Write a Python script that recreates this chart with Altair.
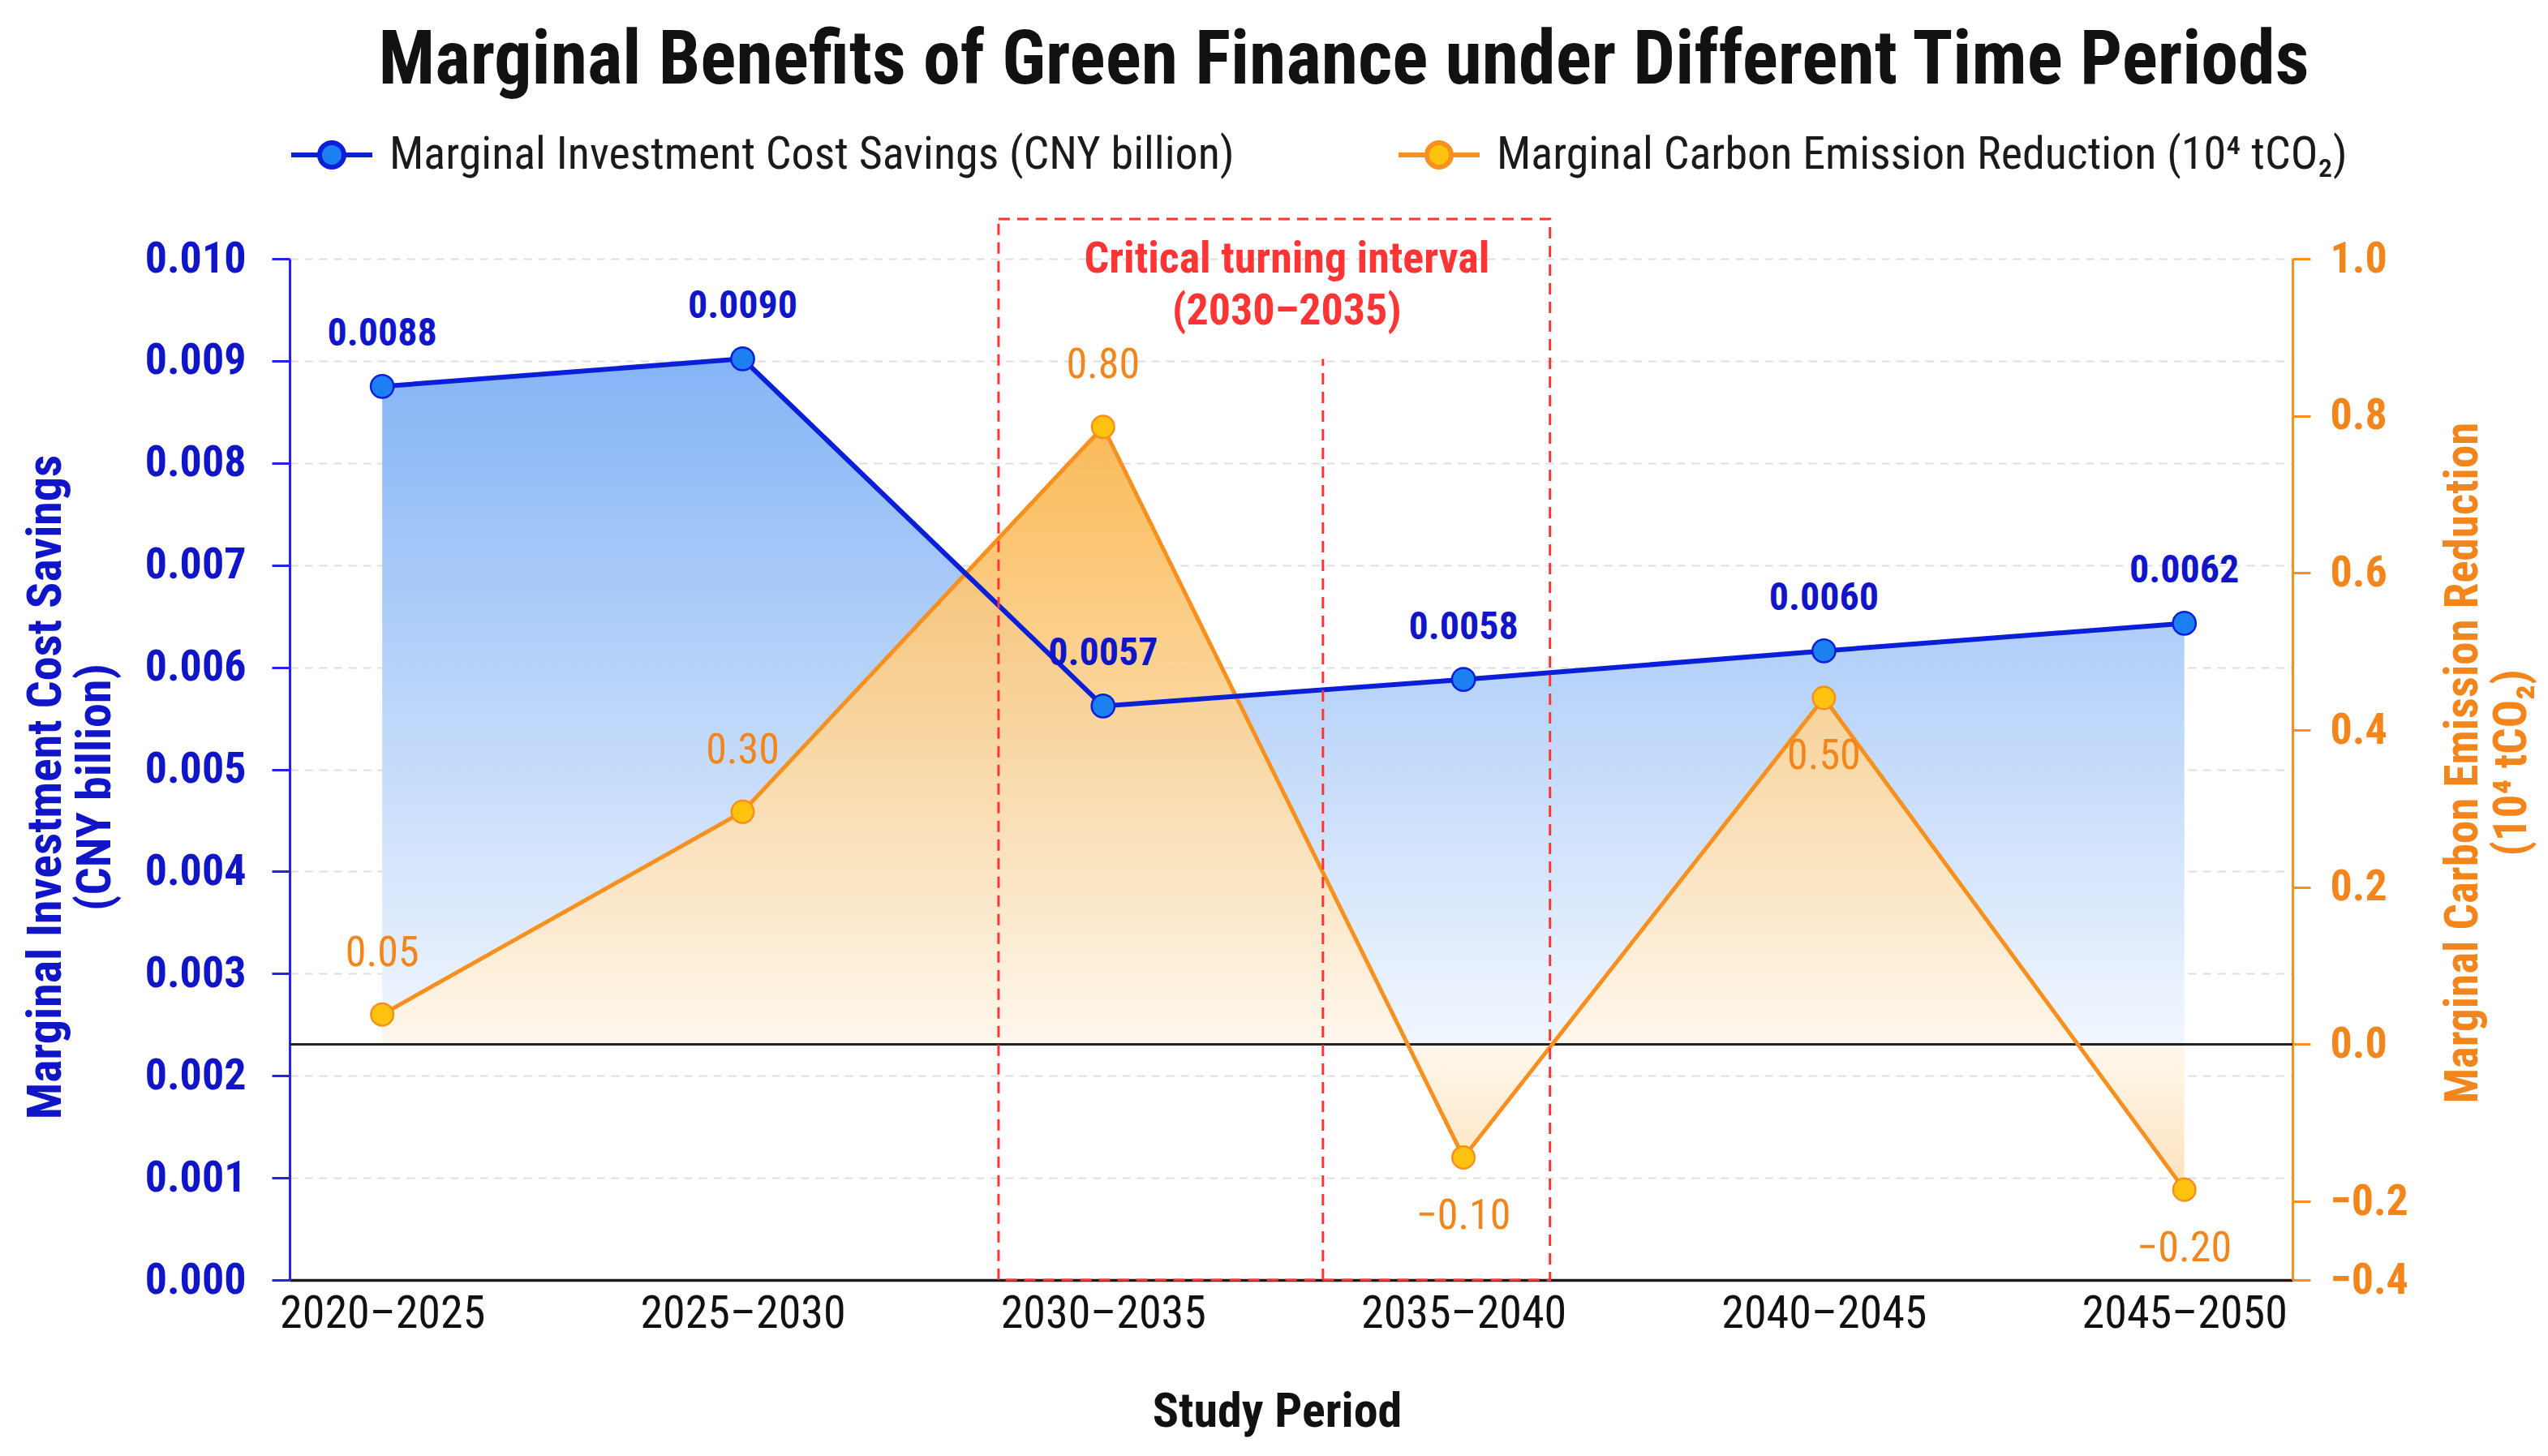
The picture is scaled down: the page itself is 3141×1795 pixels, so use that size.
import json
import altair as alt
import pandas as pd

# ---------------- data ----------------
periods = ["2020–2025", "2025–2030", "2030–2035", "2035–2040", "2040–2045", "2045–2050"]
cost_savings = [0.00875, 0.00902, 0.00562, 0.00588, 0.00616, 0.00643]
cost_labels = ["0.0088", "0.0090", "0.0057", "0.0058", "0.0060", "0.0062"]
carbon_reduction = [0.038, 0.296, 0.786, -0.144, 0.441, -0.185]
carbon_labels = ["0.05", "0.30", "0.80", "−0.10", "0.50", "−0.20"]
carbon_label_side = ["above", "above", "above", "below", "below", "below"]

left_ticks = [0.000, 0.001, 0.002, 0.003, 0.004, 0.005, 0.006, 0.007, 0.008, 0.009, 0.010]
right_ticks = [-0.3, -0.2, 0.0, 0.2, 0.4, 0.6, 0.8, 1.0]
right_tick_text = ["−0.4", "−0.2", "0.0", "0.2", "0.4", "0.6", "0.8", "1.0"]

S1 = "Marginal Investment Cost Savings (CNY billion)"
S2 = "Marginal Carbon Emission Reduction (10⁴ tCO₂)"
title_text = "Marginal Benefits of Green Finance under Different Time Periods"
note_text = "Critical turning interval\n(2030–2035)"

# annotation geometry in data units (x = period index, y = left axis units)
box_x = [1.71, 3.24]
box_y = [0.0, 0.01039]
inner_x = 2.61
inner_y = [0.0, 0.00902]
note_xy = [2.51, 0.00999]

x_domain = [-0.257, 5.3]
left_domain = [0.0, 0.010]
right_domain = [-0.3, 1.0]

# ---------------- styles ----------------
FONT = "Liberation Sans Narrow, Roboto Condensed, DejaVu Sans Condensed, Noto Sans, sans-serif"
BLUE_TXT = "#1016c8"
BLUE_LINE = "#0c1fd8"
BLUE_FILL = "#1c80f2"
BLUE_AXIS = "#2424e8"
ORANGE_LINE = "#f7901e"
ORANGE_FILL = "#ffc20e"
ORANGE_TXT = "#f2861c"
RED = "#ff3434"

idx = list(range(len(periods)))
baseline_left = left_domain[0] + (0 - right_domain[0]) / (right_domain[1] - right_domain[0]) * (left_domain[1] - left_domain[0])

blue_df = pd.DataFrame({"idx": idx, "period": periods, "value": cost_savings,
                        "label": cost_labels, "series": S1, "base": baseline_left})
orange_df = pd.DataFrame({"idx": idx, "period": periods, "value": carbon_reduction,
                          "label": carbon_labels, "side": carbon_label_side, "series": S2})
box_df = pd.DataFrame({"x1": [box_x[0]], "x2": [box_x[1]], "y1": [box_y[0]], "y2": [box_y[1]]})
inner_df = pd.DataFrame({"x": [inner_x], "y1": [inner_y[0]], "y2": [inner_y[1]]})
note_df = pd.DataFrame({"x": [note_xy[0]], "y": [note_xy[1]], "t": [note_text]})

# ---------------- scales / axes ----------------
x_axis = alt.Axis(
    values=idx, labelExpr=json.dumps(periods, ensure_ascii=False) + "[datum.value]",
    ticks=False, tickSize=0, grid=False, domainColor="#1a1a1a", domainWidth=3.5,
    labelFont=FONT, labelFontSize=56, labelColor="#111111", labelPadding=14,
    labelFlush=False, labelOverlap=False, labelLimit=2000,
    title="Study Period", titleFont=FONT, titleFontSize=60, titleFontWeight="bold",
    titleColor="#111111", titleX=1217, titleY=180, titleBaseline="alphabetic", titleAlign="center",
)
x_scale = alt.Scale(domain=x_domain, nice=False, zero=False)

def X(field):
    return alt.X(field, type="quantitative", scale=x_scale, axis=x_axis)

left_axis = alt.Axis(
    orient="left", values=left_ticks, format=".3f", grid=True, gridDash=[10, 8],
    gridColor="#dedede", gridWidth=2, domainColor=BLUE_AXIS, domainWidth=3,
    tickColor=BLUE_AXIS, tickSize=22, tickWidth=3,
    labelFont=FONT, labelFontSize=54, labelFontWeight="bold", labelColor=BLUE_TXT, labelPadding=32,
    title=["Marginal Investment Cost Savings", "(CNY billion)"], titleFont=FONT, titleFontSize=60,
    titleFontWeight="bold", titleColor=BLUE_TXT, titleAngle=270, titleX=-301, titleY=651,
    titleBaseline="middle", titleAlign="center", titleLineHeight=61,
)
left_scale = alt.Scale(domain=left_domain, nice=False, zero=False)

right_axis = alt.Axis(
    orient="right", values=right_ticks,
    labelExpr=json.dumps(right_tick_text, ensure_ascii=False) + "[indexof(" + json.dumps(right_ticks) + ", datum.value)]",
    grid=False, domainColor=ORANGE_LINE, domainWidth=3, tickColor=ORANGE_LINE, tickSize=22, tickWidth=3,
    labelFont=FONT, labelFontSize=54, labelFontWeight="bold", labelColor=ORANGE_TXT, labelPadding=24,
    title=["Marginal Carbon Emission Reduction", "(10⁴ tCO₂)"], titleFont=FONT, titleFontSize=57,
    titleFontWeight="bold", titleColor=ORANGE_TXT, titleAngle=270, titleX=210, titleY=621,
    titleBaseline="middle", titleAlign="center", titleLineHeight=60,
)
right_scale = alt.Scale(domain=right_domain, nice=False, zero=False)

legend_symbol = ("M-1,0L-0.32,0M0.32,0L1,0M-0.3,0A0.3,0.3 0 1,0 0.3,0A0.3,0.3 0 1,0 -0.3,0Z")
legend = alt.Legend(
    title=None, orient="none", legendX=-1, legendY=-181, direction="horizontal",
    symbolType=legend_symbol, symbolSize=10000, symbolStrokeWidth=6,
    labelFont=FONT, labelFontSize=56, labelColor="#1a1a1a", labelOffset=18,
    labelLimit=3000, columnPadding=190,
)
fill_enc = alt.Fill("series:N", scale=alt.Scale(domain=[S1, S2], range=[BLUE_FILL, ORANGE_FILL]), legend=legend)
stroke_enc = alt.Stroke("series:N", scale=alt.Scale(domain=[S1, S2], range=[BLUE_LINE, ORANGE_LINE]), legend=legend)

# ---------------- layer A: blue area + left axis ----------------
blue_grad = alt.Gradient(gradient="linear", x1=0, x2=0, y1=0, y2=1,
                         stops=[alt.GradientStop(color="#7eb0f5", offset=0),
                                alt.GradientStop(color="#f1f6fe", offset=1)])
blue_area = alt.Chart(blue_df).mark_area(color=blue_grad, opacity=0.95).encode(
    x=X("idx"),
    y=alt.Y("value:Q", scale=left_scale, axis=left_axis),
    y2="base:Q",
)
layer_a = alt.layer(blue_area)

# ---------------- layer B: orange series on right axis ----------------
o_top = max(carbon_reduction)
o_bot = min(min(carbon_reduction), 0)
zero_frac = o_top / (o_top - o_bot)
orange_grad = alt.Gradient(gradient="linear", x1=0, x2=0, y1=0, y2=1,
                           stops=[alt.GradientStop(color="#fab54c", offset=0),
                                  alt.GradientStop(color="#fff7eb", offset=zero_frac),
                                  alt.GradientStop(color="#fde0b8", offset=1)])
Yr = alt.Y("value:Q", scale=right_scale, axis=right_axis)
orange_base = alt.Chart(orange_df)
orange_area = orange_base.mark_area(color=orange_grad, opacity=0.93).encode(x=X("idx"), y=Yr, y2=alt.datum(0))
zero_rule = orange_base.mark_rule(color="#222222", strokeWidth=3).encode(y=alt.datum(0, type="quantitative", scale=right_scale, axis=right_axis))
orange_line = orange_base.mark_line(color=ORANGE_LINE, strokeWidth=5).encode(x=X("idx"), y=Yr)
orange_pts = orange_base.mark_circle(size=760, strokeWidth=2.5, opacity=1).encode(
    x=X("idx"), y=Yr, fill=fill_enc, stroke=stroke_enc)
orange_lab_above = orange_base.transform_filter(alt.datum.side == "above").mark_text(
    font=FONT, fontSize=52, color=ORANGE_TXT, dy=-76, baseline="middle").encode(x=X("idx"), y=Yr, text="label:N")
orange_lab_below = orange_base.transform_filter(alt.datum.side == "below").mark_text(
    font=FONT, fontSize=52, color=ORANGE_TXT, dy=72, baseline="middle").encode(x=X("idx"), y=Yr, text="label:N")
layer_b = alt.layer(orange_area, zero_rule, orange_line, orange_pts, orange_lab_above, orange_lab_below)

# ---------------- layer C: blue line/points/labels + annotation (left units) ----------------
def Yl(field):
    return alt.Y(field, type="quantitative", scale=left_scale, axis=None)

blue_base = alt.Chart(blue_df)
blue_line = blue_base.mark_line(color=BLUE_LINE, strokeWidth=6).encode(x=X("idx"), y=Yl("value"))
blue_pts = blue_base.mark_circle(size=800, strokeWidth=2.5, opacity=1).encode(
    x=X("idx"), y=Yl("value"), fill=fill_enc, stroke=stroke_enc)
blue_lab = blue_base.mark_text(font=FONT, fontSize=48, fontWeight="bold", color=BLUE_TXT,
                               dy=-64, baseline="middle").encode(x=X("idx"), y=Yl("value"), text="label:N")
box = alt.Chart(box_df).mark_rect(fillOpacity=0, stroke=RED, strokeWidth=3, strokeDash=[14, 9]).encode(
    x=X("x1"), x2="x2:Q", y=Yl("y1"), y2="y2:Q")
inner = alt.Chart(inner_df).mark_rule(color=RED, strokeWidth=3, strokeDash=[14, 9]).encode(
    x=X("x"), y=Yl("y1"), y2="y2:Q")
note = alt.Chart(note_df).mark_text(font=FONT, fontSize=54, fontWeight="bold", color=RED,
                                    lineBreak="\n", lineHeight=64, baseline="middle", align="center").encode(
    x=X("x"), y=Yl("y"), text="t:N")
layer_c = alt.layer(blue_line, blue_pts, blue_lab, box, inner, note)

chart = alt.layer(layer_a, layer_b, layer_c).resolve_scale(y="independent").properties(
    width=2469, height=1259,
    title=alt.TitleParams(text=title_text, font=FONT, fontSize=92, fontWeight="bold", color="#111111",
                          anchor="middle", frame="group", dx=65, offset=16),
    autosize=alt.AutoSizeParams(type="none"),
    padding={"left": 349, "top": 311, "right": 307, "bottom": 200},
    background="white",
).configure_view(stroke=None)

chart.save("out.html", embed_options={"renderer": "svg", "actions": False})
